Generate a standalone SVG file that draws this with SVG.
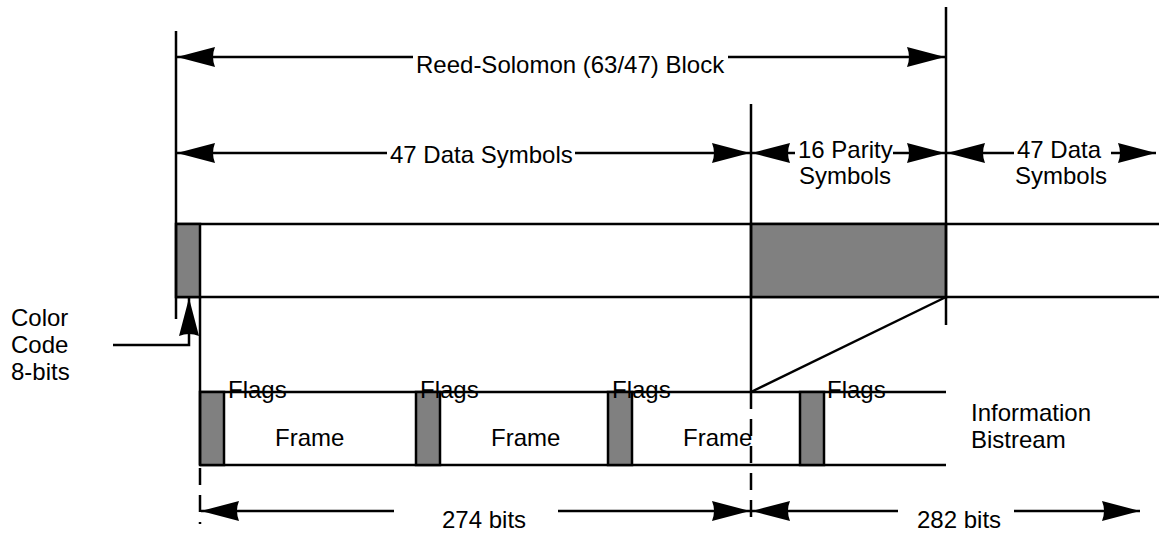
<svg xmlns="http://www.w3.org/2000/svg" width="1159" height="539" viewBox="0 0 1159 539">
<style>
.ln{stroke:#000;stroke-width:2.5;fill:none}
.dash{stroke:#000;stroke-width:2.5;fill:none;stroke-dasharray:17 10}
.box{fill:#808080;stroke:#000;stroke-width:2.5}
.t{font-family:"Liberation Sans",Arial,sans-serif;font-size:24px;fill:#000}
.arr{stroke:#000;stroke-width:2.5;fill:none;marker-end:url(#ah)}
</style>
<defs>
<marker id="ah" viewBox="0 0 38 20" refX="38" refY="10" markerWidth="38" markerHeight="20" markerUnits="userSpaceOnUse" orient="auto">
<path d="M0,0 L38,10 L0,20 Q4,10 0,0 z" fill="#000"/>
</marker>
</defs>
<rect width="1159" height="539" fill="#fff"/>

<g id="symbol-row">
<line class="ln" x1="176" y1="224" x2="1159" y2="224"/>
<line class="ln" x1="176" y1="297" x2="1159" y2="297"/>
</g>
<g id="color-code-box"><rect class="box" x="176" y="224" width="24" height="73"/></g>
<g id="parity-box"><rect class="box" x="751" y="224" width="195" height="73"/></g>

<g id="bitstream">
<line class="ln" x1="200" y1="392" x2="946" y2="392"/>
<line class="ln" x1="200" y1="465" x2="946" y2="465"/>
</g>
<g id="flags1"><rect class="box" x="200" y="392" width="24" height="73"/><text class="t" x="228" y="398">Flags</text></g>
<g id="flags2"><rect class="box" x="416" y="392" width="24" height="73"/><text class="t" x="420" y="398">Flags</text></g>
<g id="flags3"><rect class="box" x="608" y="392" width="24" height="73"/><text class="t" x="612" y="398">Flags</text></g>
<g id="flags4"><rect class="box" x="800" y="392" width="24" height="73"/><text class="t" x="827" y="398">Flags</text></g>
<g id="frame1"><text class="t" x="275" y="446">Frame</text></g>
<g id="frame2"><text class="t" x="491" y="446">Frame</text></g>
<g id="frame3"><text class="t" x="683" y="446">Frame</text></g>
<g id="info-label"><text class="t" x="971" y="421">Information</text><text class="t" x="971" y="448">Bistream</text></g>
<g id="color-code-label"><text class="t" x="11" y="326">Color</text><text class="t" x="11" y="353">Code</text><text class="t" x="11" y="380">8-bits</text></g>
<g id="rs-label"><text class="t" x="416" y="73">Reed-Solomon (63/47) Block</text></g>
<g id="data-label"><text class="t" x="390" y="163">47 Data Symbols</text></g>
<g id="parity-label"><text class="t" x="798" y="158">16 Parity</text><text class="t" x="799" y="184">Symbols</text></g>
<g id="data2-label"><text class="t" x="1017" y="158">47 Data</text><text class="t" x="1015" y="184">Symbols</text></g>
<g id="bits274-label"><text class="t" x="442" y="528">274 bits</text></g>
<g id="bits282-label"><text class="t" x="917" y="528">282 bits</text></g>

<g id="connectors">
<line class="ln" x1="176" y1="31" x2="176" y2="319"/>
<line class="ln" x1="946" y1="7" x2="946" y2="325"/>
<line class="ln" x1="751" y1="104" x2="751" y2="392"/>
<line class="dash" x1="751" y1="392" x2="751" y2="524"/>
<line class="ln" x1="200" y1="297" x2="200" y2="465"/>
<line class="dash" x1="200" y1="468" x2="200" y2="524"/>
<line class="ln" x1="946" y1="297" x2="751" y2="392"/>
<path class="arr" d="M113,345 H189 V298"/>
<line class="arr" x1="413" y1="57" x2="177" y2="57"/>
<line class="arr" x1="728" y1="57" x2="945" y2="57"/>
<line class="arr" x1="387" y1="153" x2="177" y2="153"/>
<line class="arr" x1="575" y1="153" x2="750" y2="153"/>
<line class="arr" x1="795" y1="153" x2="752" y2="153"/>
<line class="arr" x1="893" y1="153" x2="945" y2="153"/>
<line class="arr" x1="1014" y1="153" x2="947" y2="153"/>
<line class="arr" x1="1111" y1="153" x2="1156" y2="153"/>
<line class="arr" x1="394" y1="511" x2="201" y2="511"/>
<line class="arr" x1="558" y1="511" x2="750" y2="511"/>
<line class="arr" x1="898" y1="511" x2="752" y2="511"/>
<line class="arr" x1="1014" y1="511" x2="1140" y2="511"/>
</g>
</svg>
